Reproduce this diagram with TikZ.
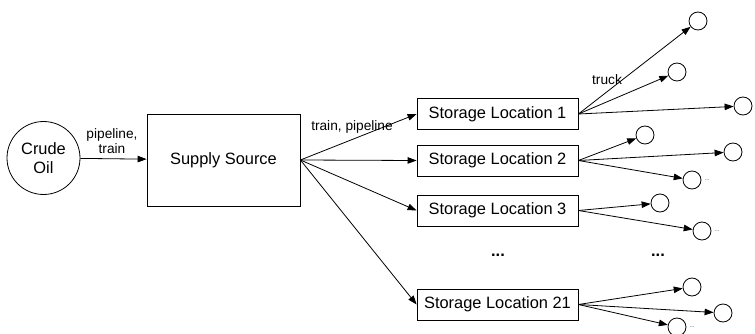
\documentclass[tikz,border=0pt]{standalone}
\usepackage{fontspec}
\setmainfont{Liberation Sans}
\usetikzlibrary{arrows.meta}
\begin{document}
\begin{tikzpicture}[x=1pt,y=-1pt,
  every node/.style={font=\fontsize{16.4}{19}\selectfont},
  box/.style={draw,line width=0.8pt,inner sep=0pt},
  stor/.style={box,minimum width=161pt,minimum height=31pt},
  dest/.style={draw,circle,line width=0.8pt,minimum size=18pt,inner sep=0pt},
  lab/.style={font=\fontsize{13.7}{15}\selectfont,inner sep=1pt},
  tiny/.style={font=\fontsize{6}{7}\selectfont,inner sep=0pt,anchor=west,text=black!70},
  conn/.style={line width=0.8pt,-{Triangle[length=9pt,width=6.5pt]}}]
\useasboundingbox (0,0) rectangle (755,334);
\node[draw,circle,line width=0.8pt,minimum size=73pt,inner sep=0pt,align=center] (crude) at (43.5,158) {Crude\\Oil};
\node[box,minimum width=153pt,minimum height=92pt] (sup) at (223.5,160) {Supply Source};
\node[stor] (s1) at (497.5,114) {Storage Location 1};
\node[stor] (s2) at (497.5,160.5) {Storage Location 2};
\node[stor] (s3) at (497.5,210.5) {Storage Location 3};
\node[stor] (s21) at (497.5,304.5) {Storage Location 21};
\node[font=\bfseries\fontsize{16.4}{19}\selectfont] (d1) at (498,255) {...};
\node[font=\bfseries\fontsize{16.4}{19}\selectfont] (d2) at (658,255) {...};
\node[lab,align=center] (lp) at (112,141) {pipeline,\\train};
\node[lab] (ltp) at (352,127) {train, pipeline};
\node[lab] (ltr) at (607,80) {truck};
% destinations
\node[dest] (a1) at (698,21) {};
\node[dest] (a2) at (677,72) {};
\node[dest] (a3) at (743,106) {};
\node[dest] (b1) at (645,135) {};
\node[dest] (b2) at (733,152) {};
\node[dest] (b3) at (692,180) {};
\node[dest] (c1) at (660,203) {};
\node[dest] (c2) at (702,231) {};
\node[dest] (e1) at (692,287) {};
\node[dest] (e2) at (723,313) {};
\node[dest] (e3) at (677,327) {};
\node[tiny] (t1) at ([xshift=3pt]b3.east) {...};
\node[tiny] (t2) at ([xshift=3pt]c2.east) {...};
\node[tiny] (t3) at ([xshift=3pt]e3.east) {...};
% connectors
\draw[conn] (crude) -- (sup);
\foreach \s in {s1,s2,s3,s21} \draw[conn] (sup.east) -- (\s.west);
\foreach \d in {a1,a2,a3} \draw[conn] (s1.east) -- (\d);
\foreach \d in {b1,b2,b3} \draw[conn] (s2.east) -- (\d);
\foreach \d in {c1,c2} \draw[conn] (s3.east) -- (\d);
\foreach \d in {e1,e2,e3} \draw[conn] (s21.east) -- (\d);
\end{tikzpicture}
\end{document}
